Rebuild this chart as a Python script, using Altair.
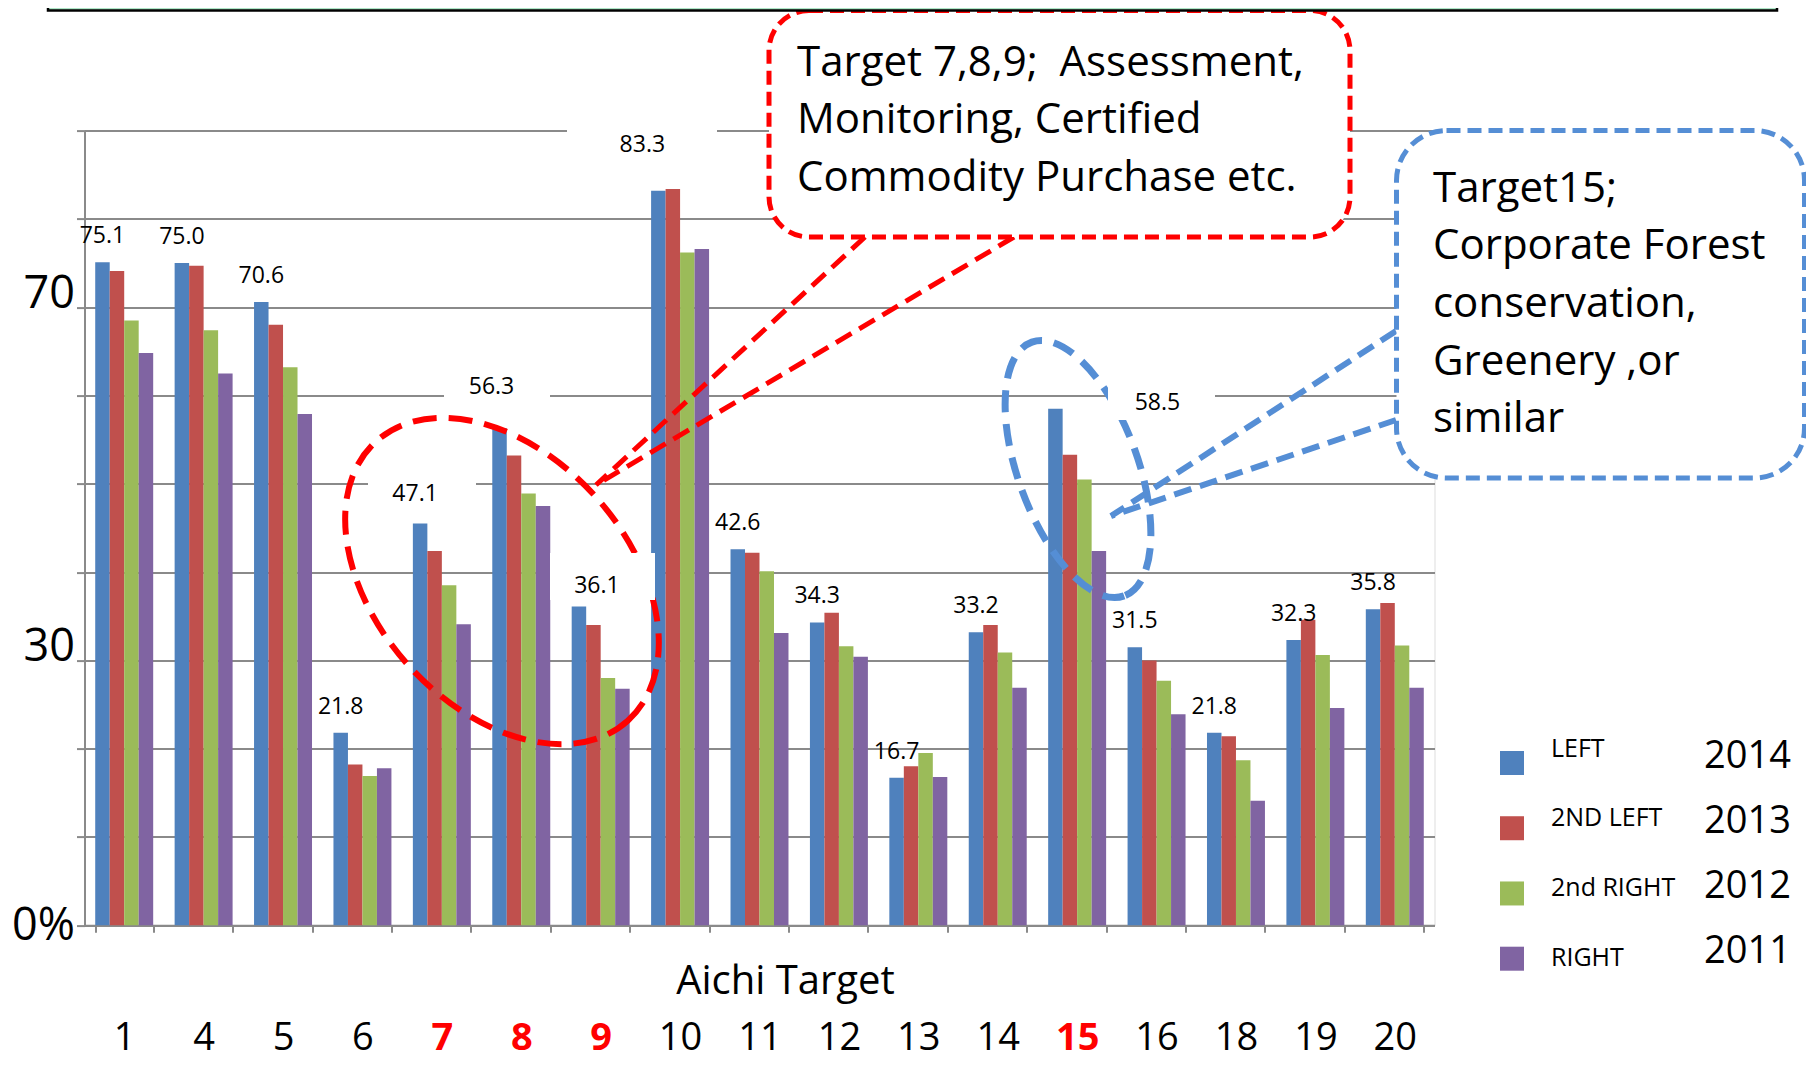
import altair as alt
import pandas as pd

# ---------------- data ----------------
targets = ["1", "4", "5", "6", "7", "8", "9", "10", "11", "12", "13", "14", "15", "16", "18", "19", "20"]
years = ["2014", "2013", "2012", "2011"]
series_names = ["LEFT", "2ND LEFT", "2nd RIGHT", "RIGHT"]
v2014 = [75.1, 75.0, 70.6, 21.8, 45.5, 56.3, 36.1, 83.2, 42.6, 34.3, 16.7, 33.2, 58.5, 31.5, 21.8, 32.3, 35.8]
v2013 = [74.1, 74.7, 68.0, 18.2, 42.4, 53.2, 34.0, 83.4, 42.2, 35.4, 18.0, 34.0, 53.3, 30.0, 21.4, 34.6, 36.5]
v2012 = [68.5, 67.4, 63.2, 16.9, 38.5, 48.9, 28.0, 76.2, 40.1, 31.6, 19.5, 30.9, 50.5, 27.7, 18.7, 30.6, 31.7]
v2011 = [64.8, 62.5, 57.9, 17.8, 34.1, 47.5, 26.8, 76.6, 33.1, 30.4, 16.8, 26.9, 42.4, 23.9, 14.1, 24.6, 26.9]
value_labels = ["75.1", "75.0", "70.6", "21.8", "47.1", "56.3", "36.1", "83.3", "42.6", "34.3",
                "16.7", "33.2", "58.5", "31.5", "21.8", "32.3", "35.8"]
highlighted = ["7", "8", "9", "15"]
red_note = ["Target 7,8,9;\u00a0 Assessment,", "Monitoring, Certified", "Commodity Purchase etc."]
blue_note = ["Target15;", "Corporate Forest", "conservation,", "Greenery ,or", "similar"]
colors = ["#4f81bd", "#c0504d", "#9bbb59", "#8064a2"]

rows = []
for yr, vals in zip(years, [v2014, v2013, v2012, v2011]):
    for t, v in zip(targets, vals):
        rows.append({"target": t, "year": yr, "value": v})
df = pd.DataFrame(rows)
lab = pd.DataFrame({"target": targets, "year": "2014", "value": v2014, "label": value_labels})
legend_df = pd.DataFrame({"row": [0, 1, 2, 3], "year": years, "name": series_names})
one = pd.DataFrame({"k": [0]})

# ---------------- layout ----------------
FONT = "Open Sans"
OX, OY = 84.5, 130.6          # page position of plot origin (left / top)
W, H = 1350, 794.7


def vx(px):
    return px - OX


def vy(py):
    return py - OY


GRAY = "#8a8a8a"
hl = "indexof(['7','8','9','15'], datum.value) >= 0"

X = alt.X(
    "target:N", sort=targets,
    scale=alt.Scale(domain=targets, paddingInner=0.27, paddingOuter=0.135),
    axis=alt.Axis(
        title="Aichi Target", titleFont=FONT, titleFontSize=40, titleFontWeight="normal",
        titleColor="black", titleX=700.5, titleY=56, titleBaseline="middle",
        labelFont=FONT, labelFontSize=38, labelAngle=0, labelBaseline="middle",
        labelPadding=106, labelOverlap=False,
        labelColor=alt.condition(hl, alt.value("#ff0000"), alt.value("#000000")),
        labelFontWeight=alt.condition(hl, alt.value("bold"), alt.value("normal")),
        tickBand="extent", tickSize=7, tickColor=GRAY, tickWidth=2,
        domainColor=GRAY, domainWidth=2, grid=False,
    ),
)
XO = alt.XOffset("year:N", sort=years, scale=alt.Scale(domain=years, paddingInner=0, paddingOuter=0))
YS = alt.Scale(domain=[0, 90], nice=False, zero=True)
C = alt.Color("year:N", sort=years, scale=alt.Scale(domain=years, range=colors), legend=None)

bars = alt.Chart(df).mark_bar().encode(
    x=X, xOffset=XO,
    y=alt.Y("value:Q", scale=YS, axis=alt.Axis(
        title=None, values=list(range(0, 91, 10)),
        labelExpr="datum.value == 0 ? '0%' : ((datum.value == 30 || datum.value == 70) ? datum.label : '')",
        labelFont=FONT, labelFontSize=45, labelColor="black", labelPadding=2, labelOverlap=False,
        labelBaseline=alt.condition("datum.value == 0", alt.value("middle"), alt.value("alphabetic")),
        tickSize=8, tickColor=GRAY, tickWidth=2, domainColor=GRAY, domainWidth=2,
        grid=True, gridColor=GRAY, gridWidth=2,
    )),
    color=C,
)

# value labels (anchored on the 2014 bar)
nudges = {"7": (-5, -30), "8": (-8, -41), "9": (18, -21), "10": (-16, -46), "15": (102, -6)}
lab_enc = dict(x=X, xOffset=XO, y=alt.Y("value:Q", scale=YS, axis=None), text="label:N")
label_layers = [
    alt.Chart(lab).transform_filter(
        "indexof(['7','8','9','10','15'], datum.target) < 0"
    ).mark_text(font=FONT, fontSize=23, color="black", baseline="middle", dy=-26).encode(**lab_enc)
]
for t, (ddx, ddy) in nudges.items():
    label_layers.append(
        alt.Chart(lab).transform_filter(f"datum.target == '{t}'").mark_text(
            font=FONT, fontSize=23, color="black", baseline="middle", dx=ddx, dy=ddy
        ).encode(**lab_enc)
    )

# white boxes behind the moved labels (page coords)
label_boxes = [(567, 118, 717, 165), (444, 358, 550, 405), (368, 464, 476, 511),
               (1108, 373, 1215, 420), (550, 553, 655, 600)]
box_layers = [
    alt.Chart(one).mark_rect(fill="white").encode(
        x=alt.value(vx(a)), x2=alt.value(vx(c)), y=alt.value(vy(b)), y2=alt.value(vy(d)))
    for a, b, c, d in label_boxes
]


def ellipse_path(r):
    k = 0.5523
    return (f"M1,0 C1,{k*r:.4f} {k},{r:.4f} 0,{r:.4f} C{-k},{r:.4f} -1,{k*r:.4f} -1,0 "
            f"C-1,{-k*r:.4f} {-k},{-r:.4f} 0,{-r:.4f} C{k},{-r:.4f} 1,{-k*r:.4f} 1,0 Z")


def ellipse(cx, cy, a, b, ang, color, sw, dash):
    return alt.Chart(one).mark_point(
        shape=ellipse_path(b / a), size=4 * a * a, angle=ang, filled=False,
        stroke=color, strokeWidth=sw, strokeDash=dash, opacity=1, strokeOpacity=1,
    ).encode(x=alt.value(vx(cx)), y=alt.value(vy(cy)))


RED = "#ff0000"
BLUE = "#558ed5"
red_ellipse = ellipse(502, 581, 188, 126, 48, RED, 6, [24, 12])
blue_ellipse = ellipse(1078, 469, 135, 60, 70, BLUE, 7, [22, 12])


def seg(x1, y1, x2, y2, color, sw, dash):
    return alt.Chart(one).mark_rule(stroke=color, strokeWidth=sw, strokeDash=dash).encode(
        x=alt.value(vx(x1)), y=alt.value(vy(y1)), x2=alt.value(vx(x2)), y2=alt.value(vy(y2)))


tails = [
    seg(865, 237, 596, 485, RED, 5, [18, 9]),
    seg(1014, 237, 596, 485, RED, 5, [18, 9]),
    seg(1396, 331, 1111, 516, BLUE, 6, [18, 9]),
    seg(1396, 420, 1111, 516, BLUE, 6, [18, 9]),
]


def callout(x1, y1, x2, y2, color, radius):
    return alt.Chart(one).mark_rect(
        fill="white", stroke=color, strokeWidth=5, strokeDash=[14, 7], cornerRadius=radius
    ).encode(x=alt.value(vx(x1)), x2=alt.value(vx(x2)), y=alt.value(vy(y1)), y2=alt.value(vy(y2)))


red_box = callout(769, 10.5, 1350, 237, RED, 40)
blue_box = callout(1396.5, 130.5, 1804.5, 478, BLUE, 50)

red_text = alt.Chart(one).mark_text(
    text=red_note, font=FONT, fontSize=42, lineHeight=57.7, align="left", baseline="alphabetic", color="black"
).encode(x=alt.value(vx(797)), y=alt.value(vy(75.8)))
blue_text = alt.Chart(one).mark_text(
    text=blue_note, font=FONT, fontSize=42, lineHeight=57.7, align="left", baseline="alphabetic", color="black"
).encode(x=alt.value(vx(1433)), y=alt.value(vy(201.5)))

title_strip = alt.Chart(one).mark_rect(fill="#ade6c6", stroke="black", strokeWidth=2.5).encode(
    x=alt.value(vx(48)), x2=alt.value(vx(1777)), y=alt.value(vy(-10)), y2=alt.value(vy(10.5)))

# custom legend
leg_sq = alt.Chart(legend_df).mark_square(size=576, opacity=1).encode(
    x=alt.value(vx(1512)),
    y=alt.Y("row:O", scale=alt.Scale(type="point", domain=[0, 1, 2, 3],
                                     range=[vy(763), vy(958.7)], padding=0), axis=None),
    color=C,
)
leg_name = alt.Chart(legend_df).mark_text(font=FONT, fontSize=25, align="left", baseline="middle",
                                          color="black").encode(
    x=alt.value(vx(1551)),
    y=alt.Y("row:O", scale=alt.Scale(type="point", domain=[0, 1, 2, 3],
                                     range=[vy(748.5), vy(958.3)], padding=0), axis=None),
    text="name:N",
)
leg_year = alt.Chart(legend_df).mark_text(font=FONT, fontSize=38, align="left", baseline="middle",
                                          color="black").encode(
    x=alt.value(vx(1704)),
    y=alt.Y("row:O", scale=alt.Scale(type="point", domain=[0, 1, 2, 3],
                                     range=[vy(757), vy(952)], padding=0), axis=None),
    text="year:N",
)

layers = ([bars, red_ellipse, blue_ellipse] + tails + box_layers + label_layers +
          [red_box, blue_box, red_text, blue_text, title_strip, leg_sq, leg_name, leg_year])

chart = alt.layer(*layers).resolve_scale(y="independent").properties(
    width=W, height=H,
    padding={"left": OX - 8, "top": OY - 8, "right": 1798 - (OX - 8) - W, "bottom": 1054 - (OY - 8) - H},
    autosize=alt.AutoSizeParams(type="none"),
    background="white",
).configure_view(stroke=None).configure(font=FONT)

chart.save("out.html", embed_options={"renderer": "svg", "actions": False})
